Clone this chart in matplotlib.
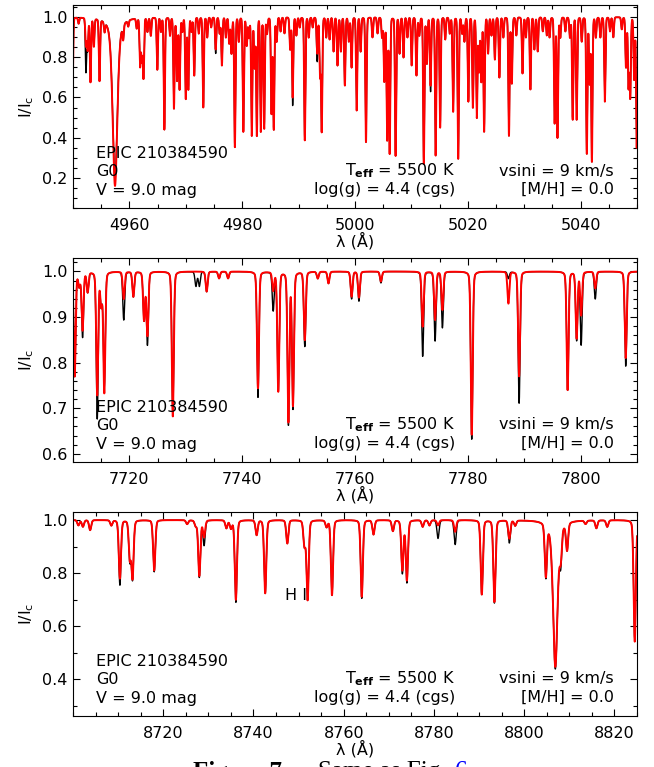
import numpy as np
import matplotlib
matplotlib.use("Agg")
import matplotlib.pyplot as plt
from matplotlib.ticker import MultipleLocator, FormatStrFormatter

plt.rcParams['font.family'] = ['DejaVu Sans']
plt.rcParams['mathtext.fontset'] = 'dejavusans'

# ---- panel 1: 4950-5050 A, line centres and core fluxes
p1_wave = [4949.9, 4951.0, 4952.3, 4952.6, 4953.1, 4953.7, 4954.7, 4955.6, 4958.9, 4959.8,
           4961.3, 4961.9, 4962.2, 4962.5, 4963.2, 4963.8, 4964.95, 4965.6, 4966.2, 4967.2,
           4967.9, 4968.45, 4968.9, 4969.4, 4970.0, 4970.45, 4971.0, 4971.5, 4972.3, 4973.1,
           4973.8, 4974.5, 4975.3, 4976.0, 4976.4, 4977.1, 4977.7, 4978.1, 4978.7, 4979.4,
           4980.2, 4980.8, 4981.2, 4981.7, 4982.2, 4982.6, 4983.3, 4983.9, 4984.4, 4985.2,
           4985.6, 4986.1, 4986.8, 4987.5, 4988.5, 4988.95, 4989.6, 4990.2, 4991.1, 4991.8,
           4992.5, 4993.3, 4993.8, 4994.1, 4994.9, 4995.5, 4996.2, 4996.9, 4997.5, 4998.2,
           4998.9, 4999.4, 5000.3, 5001.0, 5001.95, 5003.1, 5004.0, 5004.8, 5005.2, 5005.7,
           5006.15, 5007.2, 5007.9, 5008.6, 5009.3, 5010.05, 5010.9, 5011.4, 5012.2, 5012.75,
           5013.4, 5014.3, 5015.1, 5016.0, 5016.8, 5017.4, 5018.3, 5019.0, 5019.4, 5020.1,
           5020.9, 5021.6, 5022.0, 5022.4, 5022.9, 5023.6, 5024.2, 5024.8, 5025.6, 5026.3,
           5027.3, 5027.8, 5028.6, 5029.7, 5030.3, 5031.1, 5031.8, 5032.4, 5033.3, 5034.0,
           5034.5, 5035.4, 5035.9, 5036.4, 5037.3, 5038.1, 5038.6, 5039.3, 5040.2, 5041.1,
           5041.6, 5042.0, 5042.7, 5043.5, 5044.3, 5045.2, 5045.8, 5047.3, 5048.05, 5048.5,
           5048.8, 5049.5, 5049.95]
p1_model = [0.60, 0.97, 0.86, 0.84, 0.68, 0.86, 0.69, 0.95, 0.925, 0.97,
            0.95, 0.76, 0.79, 0.70, 0.93, 0.91, 0.74, 0.93, 0.44, 0.91,
            0.545, 0.685, 0.64, 0.93, 0.594, 0.64, 0.93, 0.71, 0.92, 0.55,
            0.90, 0.95, 0.84, 0.92, 0.76, 0.90, 0.87, 0.82, 0.353, 0.88,
            0.43, 0.86, 0.90, 0.41, 0.75, 0.41, 0.43, 0.445, 0.92, 0.52,
            0.44, 0.88, 0.93, 0.92, 0.84, 0.60, 0.91, 0.95, 0.387, 0.90,
            0.95, 0.82, 0.71, 0.43, 0.90, 0.89, 0.83, 0.76, 0.83, 0.66,
            0.88, 0.75, 0.536, 0.83, 0.378, 0.90, 0.92, 0.90, 0.68, 0.387,
            0.32, 0.31, 0.82, 0.80, 0.90, 0.76, 0.71, 0.91, 0.27, 0.77,
            0.66, 0.31, 0.45, 0.89, 0.92, 0.53, 0.295, 0.92, 0.88, 0.58,
            0.55, 0.50, 0.73, 0.68, 0.43, 0.82, 0.91, 0.79, 0.70, 0.90,
            0.41, 0.67, 0.91, 0.72, 0.90, 0.64, 0.84, 0.83, 0.93, 0.91,
            0.90, 0.47, 0.40, 0.90, 0.93, 0.90, 0.49, 0.49, 0.88, 0.32,
            0.67, 0.28, 0.90, 0.90, 0.58, 0.93, 0.90, 0.94, 0.75, 0.65,
            0.60, 0.69, 0.35]
p1_obs_diff = {4952.3: 0.73, 4975.3: 0.82, 4988.95: 0.56, 4993.3: 0.78, 5013.4: 0.63}
p1_broad_wave = [4957.45]
p1_broad_core = [0.16]
p1_broad_obs = [0.19]

# ---- panel 2: 7710-7810 A
p2_wave = [7710.3, 7711.1, 7711.7, 7712.6, 7714.3, 7715.0, 7715.55, 7719.0, 7720.7, 7722.6,
           7723.2, 7727.7, 7731.8, 7732.4, 7733.7, 7735.9, 7737.5, 7742.8, 7745.5, 7746.4,
           7748.2, 7749.0, 7751.1, 7753.4, 7755.3, 7759.4, 7760.7, 7764.6, 7772.0, 7774.2,
           7775.5, 7780.7, 7787.2, 7789.1, 7797.7, 7799.3, 7800.1, 7802.6, 7808.0]
p2_model = [0.77, 0.97, 0.872, 0.956, 0.73, 0.93, 0.735, 0.94, 0.945, 0.894,
            0.86, 0.682, 1.0, 1.0, 0.956, 0.985, 0.985, 0.744, 0.96, 0.737,
            0.671, 0.707, 0.85, 0.985, 0.974, 0.945, 0.943, 0.978, 0.879, 0.894,
            0.916, 0.642, 0.93, 0.77, 0.74, 0.854, 0.905, 0.963, 0.81]
p2_obs = [0.77, 0.97, 0.857, 0.956, 0.678, 0.93, 0.75, 0.894, 0.945, 0.894,
          0.84, 0.69, 0.968, 0.968, 0.956, 0.985, 0.985, 0.724, 0.916, 0.74,
          0.665, 0.70, 0.836, 0.985, 0.974, 0.94, 0.935, 0.975, 0.814, 0.848,
          0.877, 0.632, 0.985, 0.711, 0.74, 0.85, 0.84, 0.94, 0.792]

# ---- panel 3: 8700-8825 A
p3_wave = [8701.2, 8702.2, 8703.8, 8708.5, 8710.4, 8712.6, 8713.2, 8718.0, 8725.3, 8727.2,
           8728.0, 8729.05, 8734.0, 8735.0, 8736.1, 8740.7, 8742.6, 8747.5, 8751.3, 8752.0,
           8756.2, 8757.4, 8764.0, 8766.6, 8770.9, 8773.0, 8774.0, 8777.5, 8779.0, 8780.9,
           8784.7, 8790.6, 8793.4, 8796.7, 8798.0, 8804.8, 8808.1, 8809.5, 8813.6, 8816.0,
           8818.4, 8824.5]
p3_model = [0.98, 0.975, 0.962, 0.98, 0.78, 0.856, 0.784, 0.81, 0.985, 0.98,
            0.79, 0.937, 0.97, 0.97, 0.70, 0.944, 0.724, 0.912, 0.906, 0.70,
            0.975, 0.717, 0.711, 0.946, 0.959, 0.812, 0.774, 0.975, 0.98, 0.98,
            0.956, 0.72, 0.692, 0.931, 0.98, 0.80, 0.893, 0.896, 0.987, 0.97,
            0.975, 0.542]
p3_obs = [0.98, 0.975, 0.962, 0.98, 0.755, 0.85, 0.78, 0.805, 0.985, 0.98,
          0.785, 0.906, 0.97, 0.97, 0.69, 0.944, 0.724, 0.912, 0.906, 0.70,
          0.975, 0.717, 0.705, 0.946, 0.959, 0.80, 0.765, 0.975, 0.98, 0.931,
          0.908, 0.72, 0.688, 0.915, 0.98, 0.795, 0.875, 0.896, 0.987, 0.97,
          0.975, 0.55]
p3_broad_wave = [8806.9]
p3_broad_core = [0.448]
p3_broad_obs = [0.44]

star_info = ["EPIC 210384590", "G0", "V = 9.0 mag"]
param_mid = [r"T$_{\mathbf{eff}}$ = 5500 K", "log(g) = 4.4 (cgs)"]
param_right = ["vsini = 9 km/s", "[M/H] = 0.0"]


def build(grid, waves, cores, sigma, eta):
    flux = np.ones_like(grid)
    for c, f in zip(waves, cores):
        x = (grid - c) / sigma
        prof = (1 - eta) * np.exp(-0.5 * x**2) + eta / (1 + (x / 1.1774)**2)
        flux *= 1 - (1 - f) * prof
    return flux


def panel(ax, xlim, ylim, waves, model, obs, sigma, eta, broad=None):
    grid = np.linspace(xlim[0] - 1, xlim[1] + 1, 6000)
    fm = build(grid, waves, model, sigma, eta)
    fo = build(grid, waves, obs, sigma, eta)
    if broad is not None:
        bw, bm, bo, bs = broad
        fm *= build(grid, bw, bm, bs, 0.5)
        fo *= build(grid, bw, bo, bs, 0.5)
    ax.plot(grid, fo, color='black', lw=1.0)
    ax.plot(grid, fm, color='red', lw=1.4)
    ax.set_xlim(*xlim)
    ax.set_ylim(*ylim)
    ax.xaxis.set_major_locator(MultipleLocator(20))
    ax.xaxis.set_minor_locator(MultipleLocator(5))
    ax.yaxis.set_major_formatter(FormatStrFormatter('%.1f'))
    ax.tick_params(which='both', direction='in', top=True, right=True,
                   labelsize=11.5, width=0.8)
    ax.tick_params(which='major', length=5)
    ax.tick_params(which='minor', length=2.8)
    ax.tick_params(axis='x', pad=7)
    ax.tick_params(axis='y', pad=4)
    for s in ax.spines.values():
        s.set_linewidth(0.8)
    ax.set_xlabel(u"\u03bb (\u00c5)", fontsize=11.5)
    ax.xaxis.set_label_coords(0.5, -0.12)
    ax.set_ylabel(r"I/I$_\mathrm{c}$", fontsize=11.5)
    ax.yaxis.set_label_coords(-0.066, 0.5)
    for i, t in enumerate(star_info):
        ax.text(0.041, 0.268 - i * 0.09, t, transform=ax.transAxes,
                fontsize=11.5, va='center', ha='left')
    for i, t in enumerate(param_mid):
        ax.text(0.678, 0.182 - i * 0.09, t, transform=ax.transAxes,
                fontsize=11.5, va='center', ha='right')
    for i, t in enumerate(param_right):
        ax.text(0.959, 0.182 - i * 0.09, t, transform=ax.transAxes,
                fontsize=11.5, va='center', ha='right')


fig = plt.figure(figsize=(6.54, 7.67), dpi=100)
ax1 = fig.add_axes([0.1116, 0.7288, 0.8624, 0.2647])
ax2 = fig.add_axes([0.1116, 0.3977, 0.8624, 0.2656])
ax3 = fig.add_axes([0.1116, 0.0665, 0.8624, 0.2656])

p1_obs = [p1_obs_diff.get(w, m) for w, m in zip(p1_wave, p1_model)]
panel(ax1, (4950, 5050), (0.05, 1.06), p1_wave, p1_model, p1_obs, 0.11, 0.08,
      (p1_broad_wave, p1_broad_core, p1_broad_obs, 0.42))
ax1.yaxis.set_major_locator(MultipleLocator(0.2))
ax1.yaxis.set_minor_locator(MultipleLocator(0.05))

panel(ax2, (7710, 7810), (0.582, 1.029), p2_wave, p2_model, p2_obs, 0.17, 0.2)
ax2.yaxis.set_major_locator(MultipleLocator(0.1))
ax2.yaxis.set_minor_locator(MultipleLocator(0.02))

panel(ax3, (8700, 8825), (0.262, 1.029), p3_wave, p3_model, p3_obs, 0.24, 0.2,
      (p3_broad_wave, p3_broad_core, p3_broad_obs, 0.5))
ax3.set_xticks(np.arange(8720, 8821, 20))
ax3.yaxis.set_major_locator(MultipleLocator(0.2))
ax3.yaxis.set_minor_locator(MultipleLocator(0.1))
ax3.text(8749.4, 0.717, "H I", fontsize=11.5, ha='center', va='center')

# caption, cut off at the bottom edge as in the page screenshot
fig.text(193 / 654, 0.0075, "Figure 7.", family='Liberation Serif', weight='bold',
         fontsize=18, va='top')
fig.text(318 / 654, 0.0075, "Same as Fig.", family='Liberation Serif', fontsize=18, va='top')
fig.text(455 / 654, 0.0075, "6", family='Liberation Serif', fontsize=18, va='top', color='blue')

fig.savefig("out.png", dpi=100)
